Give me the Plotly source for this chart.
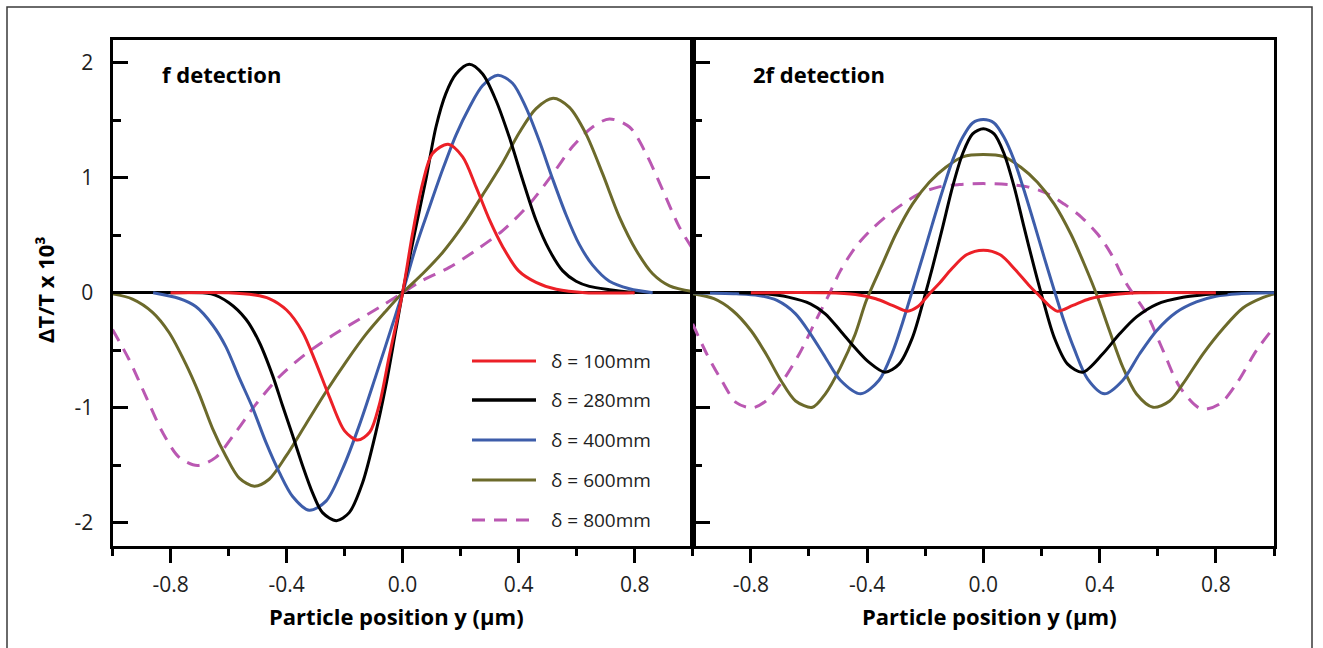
import plotly.graph_objects as go

# ---------------------------------------------------------------- data
labels = ["δ = 100mm", "δ = 280mm", "δ = 400mm", "δ = 600mm", "δ = 800mm"]
colors = ["#EC2027", "#000000", "#3D5DAA", "#6C6A2B", "#BA58B2"]
dashes = ["solid", "solid", "solid", "solid", "13px,9px"]

# f detection (left panel)
f_x_100 = [-0.80, -0.60, -0.51, -0.46, -0.40, -0.345, -0.30, -0.253, -0.20, -0.155, -0.113, -0.08, -0.046, 0.0,
           0.034, 0.069, 0.103, 0.157, 0.207, 0.253, 0.30, 0.345, 0.40, 0.46, 0.53, 0.63, 0.80]
f_y_100 = [0.0, 0.0, -0.02, -0.05, -0.15, -0.34, -0.60, -0.90, -1.20, -1.28, -1.21, -0.97, -0.55, 0.0,
           0.51, 0.95, 1.21, 1.29, 1.18, 0.92, 0.63, 0.40, 0.19, 0.09, 0.03, 0.0, 0.0]

f_x_280 = [-0.80, -0.66, -0.60, -0.54, -0.494, -0.448, -0.414, -0.379, -0.345, -0.31, -0.276, -0.228, -0.184,
           -0.138, -0.092, -0.058, -0.023, 0.0, 0.04, 0.08, 0.115, 0.149, 0.184, 0.23, 0.276, 0.322, 0.368,
           0.414, 0.46, 0.506, 0.552, 0.598, 0.644, 0.713, 0.80]
f_y_280 = [0.0, -0.01, -0.085, -0.23, -0.43, -0.72, -0.98, -1.24, -1.50, -1.74, -1.91, -1.98, -1.91,
           -1.65, -1.21, -0.81, -0.32, 0.0, 0.50, 0.98, 1.44, 1.73, 1.90, 1.985, 1.90, 1.67, 1.35,
           0.98, 0.63, 0.37, 0.19, 0.10, 0.055, 0.026, 0.0]

f_x_400 = [-0.86, -0.77, -0.713, -0.655, -0.609, -0.563, -0.517, -0.471, -0.425, -0.379, -0.322, -0.264,
           -0.207, -0.149, -0.092, -0.034, 0.0, 0.046, 0.092, 0.138, 0.184, 0.23, 0.276, 0.328, 0.379, 0.425,
           0.471, 0.517, 0.563, 0.609, 0.655, 0.713, 0.782, 0.862]
f_y_400 = [0.0, -0.05, -0.12, -0.28, -0.47, -0.74, -1.0, -1.30, -1.56, -1.77, -1.89, -1.81,
           -1.53, -1.15, -0.72, -0.27, 0.0, 0.40, 0.74, 1.07, 1.37, 1.61, 1.80, 1.89, 1.82, 1.61,
           1.32, 0.99, 0.68, 0.42, 0.24, 0.10, 0.035, 0.0]

f_x_600 = [-1.0, -0.931, -0.862, -0.805, -0.747, -0.701, -0.655, -0.609, -0.563, -0.511, -0.46, -0.402,
           -0.333, -0.264, -0.195, -0.126, -0.058, 0.0, 0.069, 0.138, 0.207, 0.276, 0.345, 0.402, 0.46,
           0.519, 0.575, 0.632, 0.69, 0.747, 0.805, 0.862, 0.92, 1.0]
f_y_600 = [-0.01, -0.055, -0.17, -0.345, -0.62, -0.88, -1.18, -1.42, -1.61, -1.68, -1.62, -1.42,
           -1.14, -0.86, -0.60, -0.36, -0.16, 0.0, 0.165, 0.35, 0.58, 0.85, 1.13, 1.39, 1.60,
           1.69, 1.61, 1.38, 1.03, 0.66, 0.37, 0.165, 0.06, 0.01]

f_x_800 = [-1.0, -0.943, -0.885, -0.828, -0.77, -0.707, -0.644, -0.575, -0.506, -0.425, -0.333, -0.241,
           -0.149, -0.069, 0.0, 0.069, 0.161, 0.253, 0.345, 0.437, 0.517, 0.586, 0.655, 0.713, 0.782,
           0.839, 0.897, 0.954, 1.0]
f_y_800 = [-0.32, -0.58, -0.90, -1.21, -1.43, -1.50, -1.43, -1.21, -0.97, -0.73, -0.53, -0.37,
           -0.23, -0.11, 0.0, 0.107, 0.22, 0.37, 0.54, 0.77, 1.03, 1.27, 1.44, 1.51, 1.44,
           1.21, 0.89, 0.57, 0.38]

# 2f detection (right panel)
t_x_100 = [-0.80, -0.54, -0.44, -0.37, -0.313, -0.261, -0.225, -0.186, -0.152, -0.108, -0.058, 0.0,
           0.058, 0.110, 0.155, 0.190, 0.23, 0.255, 0.308, 0.366, 0.45, 0.54, 0.80]
t_y_100 = [0.0, 0.0, -0.015, -0.052, -0.11, -0.16, -0.12, -0.01, 0.08, 0.21, 0.33, 0.37,
           0.33, 0.20, 0.07, -0.02, -0.12, -0.16, -0.11, -0.052, -0.015, 0.0, 0.0]

t_x_280 = [-0.84, -0.748, -0.671, -0.595, -0.544, -0.492, -0.441, -0.395, -0.338, -0.29, -0.244, -0.203,
           -0.175, -0.14, -0.106, -0.071, -0.037, 0.0, 0.037, 0.071, 0.106, 0.14, 0.175, 0.205, 0.244,
           0.29, 0.342, 0.411, 0.469, 0.527, 0.596, 0.687, 0.84]
t_y_280 = [0.0, -0.009, -0.038, -0.096, -0.183, -0.33, -0.48, -0.60, -0.69, -0.62, -0.39, -0.04,
           0.22, 0.57, 0.92, 1.21, 1.38, 1.425, 1.38, 1.21, 0.92, 0.57, 0.22, -0.06, -0.39,
           -0.62, -0.69, -0.53, -0.357, -0.21, -0.10, -0.04, 0.0]

t_x_400 = [-1.0, -0.85, -0.774, -0.71, -0.646, -0.595, -0.544, -0.492, -0.422, -0.359, -0.313, -0.278,
           -0.244, -0.209, -0.175, -0.14, -0.106, -0.071, -0.037, 0.0, 0.037, 0.071, 0.106, 0.14, 0.175,
           0.209, 0.244, 0.278, 0.313, 0.359, 0.417, 0.48, 0.538, 0.596, 0.664, 0.733, 0.80, 0.88, 1.0]
t_y_400 = [0.0, -0.009, -0.023, -0.067, -0.183, -0.357, -0.56, -0.76, -0.878, -0.76, -0.52, -0.26,
           0.02, 0.31, 0.60, 0.89, 1.15, 1.35, 1.475, 1.504, 1.475, 1.35, 1.15, 0.89, 0.60,
           0.31, 0.02, -0.25, -0.49, -0.75, -0.878, -0.76, -0.53, -0.33, -0.17, -0.08, -0.03, -0.008, 0.0]

t_x_600 = [-1.0, -0.927, -0.863, -0.799, -0.748, -0.697, -0.646, -0.588, -0.544, -0.492, -0.441, -0.403,
           -0.347, -0.301, -0.244, -0.186, -0.129, -0.071, 0.0, 0.071, 0.129, 0.186, 0.244, 0.301, 0.347,
           0.395, 0.434, 0.48, 0.527, 0.584, 0.641, 0.687, 0.756, 0.825, 0.894, 0.963, 1.0]
t_y_600 = [-0.009, -0.052, -0.154, -0.33, -0.53, -0.76, -0.94, -0.995, -0.88, -0.65, -0.36, -0.07,
           0.25, 0.51, 0.77, 0.96, 1.09, 1.18, 1.20, 1.18, 1.09, 0.96, 0.77, 0.51, 0.25,
           -0.05, -0.33, -0.647, -0.88, -0.995, -0.94, -0.79, -0.53, -0.31, -0.13, -0.04, -0.01]

t_x_800 = [-1.0, -0.952, -0.901, -0.85, -0.795, -0.748, -0.697, -0.633, -0.582, -0.53, -0.492, -0.439,
           -0.393, -0.336, -0.278, -0.221, -0.152, -0.083, 0.0, 0.083, 0.152, 0.221, 0.278, 0.336, 0.393,
           0.439, 0.492, 0.561, 0.618, 0.676, 0.75, 0.814, 0.871, 0.94, 1.0]
t_y_800 = [-0.27, -0.53, -0.76, -0.955, -1.0, -0.94, -0.79, -0.53, -0.27, -0.01, 0.19, 0.40,
           0.53, 0.66, 0.77, 0.86, 0.92, 0.94, 0.948, 0.94, 0.92, 0.86, 0.77, 0.66, 0.51,
           0.34, 0.08, -0.18, -0.50, -0.82, -1.01, -0.965, -0.79, -0.50, -0.30]

x_tickvals = [-0.8, -0.4, 0.0, 0.4, 0.8]
x_ticktext = ["-0.8", "-0.4", "0.0", "0.4", "0.8"]
x_minorvals = [-1.0, -0.6, -0.2, 0.2, 0.6, 1.0]
y_tickvals = [-2, -1, 0, 1, 2]
y_ticktext = ["-2", "-1", "0", "1", "2"]
y_minorvals = [-1.5, -0.5, 0.5, 1.5]

panel_titles = ["f detection", "2f detection"]
x_title = "Particle position y (μm)"
y_title = "ΔT/T x 10³"

f_series = [(f_x_100, f_y_100), (f_x_280, f_y_280), (f_x_400, f_y_400), (f_x_600, f_y_600), (f_x_800, f_y_800)]
t_series = [(t_x_100, t_y_100), (t_x_280, t_y_280), (t_x_400, t_y_400), (t_x_600, t_y_600), (t_x_800, t_y_800)]

# ---------------------------------------------------------------- figure
W, H = 1323, 648
FONT = "Open Sans, Lato, DejaVu Sans, sans-serif"

fig = go.Figure()
draw_order = [4, 3, 2, 1, 0]
for xref, yref, series in (("x", "y", f_series), ("x2", "y2", t_series)):
    for i in draw_order:
        xs, ys = series[i]
        fig.add_trace(go.Scatter(
            x=xs, y=ys, mode="lines", name=labels[i], showlegend=False,
            xaxis=xref, yaxis=yref,
            line=dict(color=colors[i], width=3, dash=dashes[i], shape="spline", smoothing=0.85),
            hoverinfo="skip",
        ))

left_px, mid_px, right_px = 112.5, 692.7, 1274.0
top_px, bot_px = 39.5, 546.0

tick_font = dict(family=FONT, size=21, color="#1e1e1e")

xaxis_common = dict(
    range=[-1, 1], showgrid=False, zeroline=False,
    showline=True, linecolor="black", linewidth=3, mirror=True,
    tickmode="array", tickvals=x_tickvals, ticktext=x_ticktext,
    ticks="outside", ticklen=14, tickwidth=3, tickcolor="black",
    ticklabelstandoff=4,
    tickfont=tick_font,
    minor=dict(tickmode="array", tickvals=x_minorvals, ticks="outside", ticklen=7,
               tickwidth=3, tickcolor="black", showgrid=False),
)
yaxis_common = dict(
    range=[-2.2, 2.2], showgrid=False,
    zeroline=True, zerolinecolor="black", zerolinewidth=3,
    showline=True, linecolor="black", linewidth=3, mirror=True,
    tickmode="array", tickvals=y_tickvals, ticktext=y_ticktext,
    ticks="inside", tickwidth=3, tickcolor="black",
    tickfont=tick_font,
    domain=[1 - bot_px / H, 1 - top_px / H],
)

fig.update_layout(
    width=W, height=H,
    margin=dict(l=0, r=0, t=0, b=0),
    paper_bgcolor="white", plot_bgcolor="white",
    showlegend=False,
    xaxis=dict(xaxis_common, domain=[left_px / W, mid_px / W], anchor="y"),
    xaxis2=dict(xaxis_common, domain=[mid_px / W, right_px / W], anchor="y2"),
    yaxis=dict(yaxis_common, anchor="x", ticklen=15, ticklabelstandoff=12,
               minor=dict(tickmode="array", tickvals=y_minorvals, ticks="inside", ticklen=8,
                          tickwidth=3, tickcolor="black", showgrid=False)),
    yaxis2=dict(yaxis_common, anchor="x2", matches="y", showticklabels=False, ticklen=17,
                minor=dict(tickmode="array", tickvals=y_minorvals, ticks="inside", ticklen=9,
                           tickwidth=3, tickcolor="black", showgrid=False)),
)

annotations = []
bold = dict(family=FONT, size=22, color="black")
# panel titles
for txt, xpx in zip(panel_titles, (160, 751)):
    annotations.append(dict(text="<b>%s</b>" % txt, xref="paper", yref="paper",
                            x=xpx / W, y=1 - 74 / H, xanchor="left", yanchor="middle",
                            showarrow=False, font=bold))
# x axis titles
for xpx in (397, 989):
    annotations.append(dict(text="<b>%s</b>" % x_title, xref="paper", yref="paper",
                            x=xpx / W, y=1 - 616 / H, xanchor="center", yanchor="middle",
                            showarrow=False, font=bold))
# y axis title
annotations.append(dict(text="<b>%s</b>" % y_title, xref="paper", yref="paper",
                        x=45 / W, y=1 - 290 / H, xanchor="center", yanchor="middle",
                        textangle=-90, showarrow=False, font=bold))

# legend drawn inside the left panel
shapes = []
legend_rows_px = [361, 400, 440, 480, 520]
for i, ypx in enumerate(legend_rows_px):
    shapes.append(dict(type="line", xref="paper", yref="paper",
                       x0=472 / W, x1=536 / W, y0=1 - ypx / H, y1=1 - ypx / H,
                       line=dict(color=colors[i], width=3.5 if i == 1 else 3, dash=dashes[i])))
    annotations.append(dict(text=labels[i], xref="paper", yref="paper",
                            x=549 / W, y=1 - ypx / H, xanchor="left", yanchor="middle",
                            showarrow=False, font=dict(family=FONT, size=19, color="#1e1e1e")))

# outer frame of the figure
shapes.append(dict(type="rect", xref="paper", yref="paper",
                   x0=7 / W, x1=1312 / W, y0=-0.02, y1=1 - 7 / H,
                   line=dict(color="#3a3a3a", width=1.5), fillcolor="rgba(0,0,0,0)", layer="below"))

fig.update_layout(annotations=annotations, shapes=shapes)

fig.write_html("out.html")
